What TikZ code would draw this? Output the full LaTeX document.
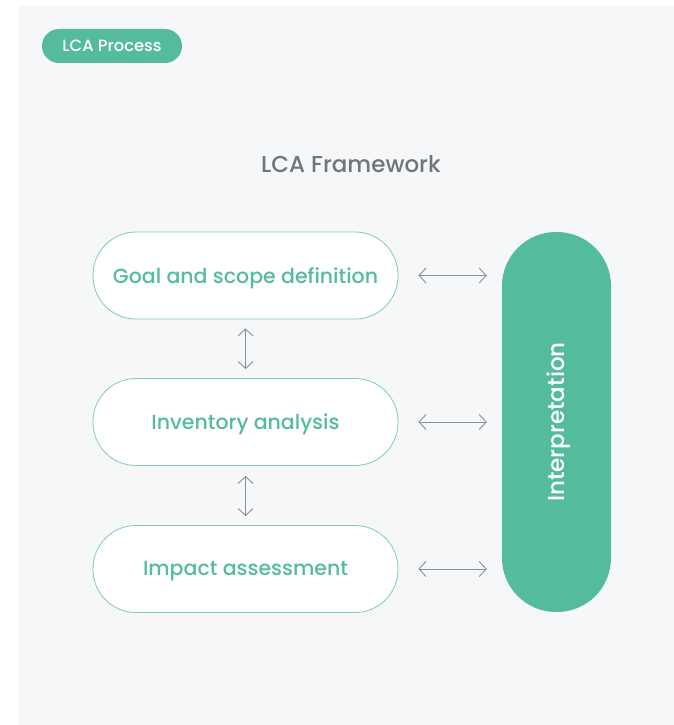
\documentclass[tikz,border=0pt]{standalone}
\usepackage{fontspec}
\setmainfont{Poppins Medium}
\usetikzlibrary{positioning,arrows.meta}

\definecolor{lcagreen}{HTML}{55BB9F}
\definecolor{lcaline}{HTML}{7CCDB4}
\definecolor{panelgrey}{HTML}{F6F7F9}
\definecolor{titlegrey}{HTML}{6E767B}
\definecolor{arrowgrey}{HTML}{8A9095}

% drop a label a touch (box size unchanged) so it sits optically centred
\newcommand{\lowered}[1]{\raisebox{-2.5pt}[\height][\depth]{#1}}

\tikzset{
  badge/.style={fill=lcagreen, text=white, rounded corners=17pt,
    minimum width=140pt, minimum height=34pt, inner sep=0pt,
    font=\fontsize{16.3}{18}\selectfont},
  stage/.style={draw=lcaline, line width=0.8pt, fill=white, text=lcagreen,
    rounded corners=43pt, minimum width=305pt, minimum height=87pt,
    inner sep=0pt, font=\fontsize{20.5}{23}\selectfont},
  pill/.style={fill=lcagreen, text=white, rotate=90, rounded corners=54pt,
    minimum width=380pt, minimum height=109pt, inner sep=0pt,
    font=\fontsize{23}{26}\selectfont},
  conn/.style={arrowgrey, line width=0.9pt,
    {Straight Barb[length=7pt,width=15pt]}-{Straight Barb[length=7pt,width=15pt]}}
}

\begin{document}
\begin{tikzpicture}[x=1pt,y=-1pt]
  \useasboundingbox (0,0) rectangle (674,725);
  \fill[panelgrey] (19,6) rectangle (674,725);

  \node[badge] (badge) at (112,46) {LCA Process};
  \node[text=titlegrey, font=\fontsize{23}{26}\selectfont] (title) at (351,164) {LCA Framework};

  % the three phases, stacked
  \node[stage] (goal) at (245.5,275.5) {\lowered{Goal and scope definition}};
  \node[stage] (inv) at (245.5,422) {\lowered{Inventory analysis}};
  \node[stage] (impact) at (245.5,569) {\lowered{Impact assessment}};

  \node[pill] (interp) at (556.5,422) {\lowered{Interpretation}};

  % links between phases
  \draw[conn, shorten <=9pt, shorten >=9pt] (goal.south) -- (inv.north);
  \draw[conn, shorten <=10pt, shorten >=9pt] (inv.south) -- (impact.north);

  % links to interpretation
  \draw[conn, shorten <=20pt, shorten >=15pt] (goal.east) -- (goal.east -| interp.north);
  \draw[conn, shorten <=20pt, shorten >=15pt] (inv.east) -- (inv.east -| interp.north);
  \draw[conn, shorten <=20pt, shorten >=15pt] (impact.east) -- (impact.east -| interp.north);
\end{tikzpicture}
\end{document}
